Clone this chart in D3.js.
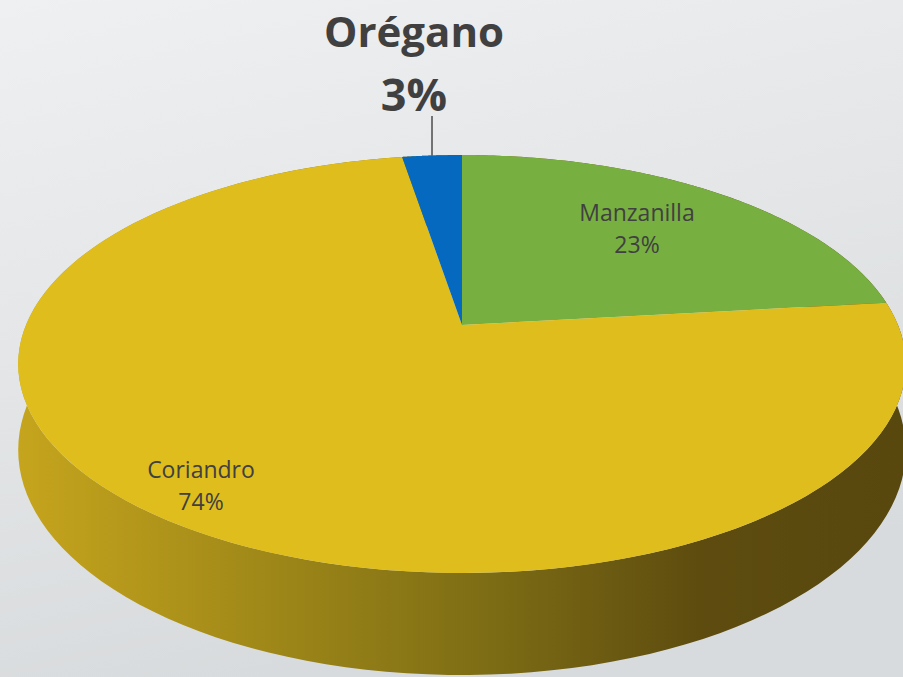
<!DOCTYPE html>
<html>
<head>
<meta charset="utf-8">
<script src="https://cdn.jsdelivr.net/npm/d3@7"></script>
<style>
body { margin: 0; overflow: hidden; }
text { font-family: "Open Sans", sans-serif; fill: #404040; }
</style>
</head>
<body>
<svg id="svg1" width="903" height="677"></svg>
<script>
var categories = ['Manzanilla', 'Coriandro', 'Orégano'];
var values = [23.2, 74.2, 2.6];
var pct_labels = ['23%', '74%', '3%'];
var colors = ['#77b041', '#dfbd1d', '#0469bf'];

var svg1 = d3.select('#svg1');
var width = +svg1.attr('width'), height = +svg1.attr('height');

// perspective-ish mapping of the unit circle onto the screen
var cx = 462, cy = 325, ax = 436, by = 201.7, k = -0.1866, depth = 83;
function proj(a, down) {
	var x = Math.sin(a), y = -Math.cos(a);
	var den = 1 + k*y;
	return [cx + ax*x/den, cy + by*y/den + (down ? depth/den : 0)];
}

var defs = svg1.append('defs');
var bg = defs.append('linearGradient').attr('id', 'bg').attr('x1', 0).attr('y1', 0).attr('x2', 0.3).attr('y2', 1);
bg.append('stop').attr('offset', 0).attr('stop-color', '#eff0f1');
bg.append('stop').attr('offset', 1).attr('stop-color', '#d8dbdd');

var sideGrad = defs.append('linearGradient').attr('id', 'side').attr('gradientUnits', 'userSpaceOnUse')
	.attr('x1', 17).attr('y1', 0).attr('x2', 903).attr('y2', 0);
[[0, '#c6a51d'], [0.32, '#9a8418'], [0.545, '#7b6b14'], [0.77, '#5e4c0f'], [1, '#58480e']].forEach(s => {
	sideGrad.append('stop').attr('offset', s[0]).attr('stop-color', s[1]);
});

svg1.append('rect').attr('width', width).attr('height', height).attr('fill', 'url(#bg)');

var pie = d3.pie().sort(null).value(d => d);
var arcs = pie(values);

function sidePath(d) {
	var n = 120, top = [], bot = [];
	for (var i = 0; i <= n; i++) {
		var a = d.startAngle + (d.endAngle - d.startAngle)*i/n;
		top.push(proj(a, false));
		bot.push(proj(a, true));
	}
	return d3.line()(top.concat(bot.reverse())) + 'Z';
}
function topPath(d) {
	var n = 200, pts = [[cx, cy]];
	for (var i = 0; i <= n; i++) {
		pts.push(proj(d.startAngle + (d.endAngle - d.startAngle)*i/n, false));
	}
	return d3.line()(pts) + 'Z';
}

svg1.append('g').selectAll('path').data(arcs).enter().append('path')
	.attr('d', sidePath).attr('fill', 'url(#side)');

svg1.append('g').selectAll('path').data(arcs).enter().append('path')
	.attr('d', topPath).attr('fill', (d, i) => colors[i]);

// labels
var lab = svg1.append('g');
lab.append('text').attr('x', 637).attr('y', 221).attr('text-anchor', 'middle').attr('font-size', 23).text(categories[0]);
lab.append('text').attr('x', 637).attr('y', 253).attr('text-anchor', 'middle').attr('font-size', 23).text(pct_labels[0]);
lab.append('text').attr('x', 201).attr('y', 478).attr('text-anchor', 'middle').attr('font-size', 23).text(categories[1]);
lab.append('text').attr('x', 201).attr('y', 510).attr('text-anchor', 'middle').attr('font-size', 23).text(pct_labels[1]);
lab.append('text').attr('x', 414).attr('y', 47).attr('text-anchor', 'middle').attr('font-size', 42).attr('font-weight', 'bold').text(categories[2]);
lab.append('text').attr('x', 414).attr('y', 111).attr('text-anchor', 'middle').attr('font-size', 45).attr('font-weight', 'bold').text(pct_labels[2]);

var oreg = arcs[2], mid = (oreg.startAngle + oreg.endAngle)/2;
var pt = proj(mid, false);
lab.append('line').attr('x1', pt[0]).attr('x2', pt[0]).attr('y1', 116).attr('y2', pt[1])
	.attr('stroke', '#333').attr('stroke-width', 1.3);
</script>
</body>
</html>
